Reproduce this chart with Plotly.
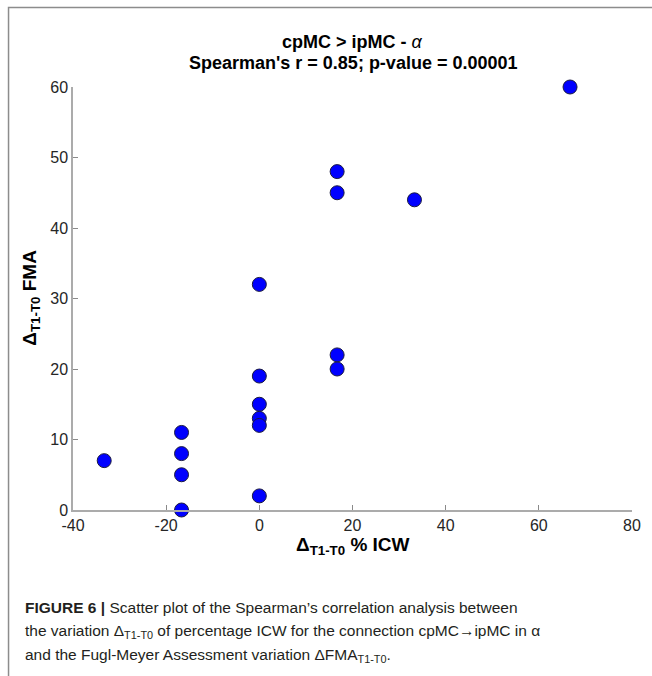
import plotly.graph_objects as go

# Data
icw_change = [-33.3, -16.7, -16.7, -16.7, -16.7, 0, 0, 0, 0, 0, 0,
              16.7, 16.7, 16.7, 16.7, 33.3, 66.7]
fma_change = [7, 11, 8, 5, 0, 32, 19, 15, 13, 12, 2,
              48, 45, 22, 20, 44, 60]
x_ticks = [-40, -20, 0, 20, 40, 60, 80]
x_tick_labels = ["-40", "-20", "0", "20", "40", "60", "80"]
y_ticks = [0, 10, 20, 30, 40, 50, 60]
y_tick_labels = ["0", "10", "20", "30", "40", "50", "60"]

W, H = 652, 676
L, R, T, B = 73, 11, 87, 166
pw, ph = W - L - R, H - T - B

def px(xp):
    return (xp - L) / pw

def py(yp):
    return (H - B - yp) / ph

fig = go.Figure()
fig.add_trace(go.Scatter(
    x=icw_change, y=fma_change, mode="markers",
    marker=dict(size=14, color="#0000ff", line=dict(color="#1a1a40", width=1)),
    cliponaxis=False, showlegend=False, hoverinfo="skip",
))

axis_common = dict(
    showgrid=False, zeroline=False, showline=True, linecolor="#ababab", linewidth=1.5,
    ticks="inside", ticklen=5, tickcolor="#8a8a8a", tickwidth=1,
    tickfont=dict(family="Liberation Sans, Arial, sans-serif", size=16, color="#262626"),
    mirror=False,
)
fig.update_xaxes(range=[-40, 80], tickvals=x_ticks, ticktext=x_tick_labels, **axis_common)
fig.update_yaxes(range=[0, 60], tickvals=y_ticks, ticktext=y_tick_labels, **axis_common)

font_main = "Liberation Sans, Arial, sans-serif"
ann = [
    dict(x=px(357), y=py(42), text="<b>cpMC &gt; ipMC - </b><i>α</i>", font=dict(size=18)),
    dict(x=px(357), y=py(63), text="<b>Spearman's r = 0.85; p-value = 0.00001</b>", font=dict(size=18)),
    dict(x=px(357), y=py(546), text="<b>Δ<sub>T1-T0</sub> % ICW</b>", font=dict(size=19)),
    dict(x=px(30), y=py(298), text="<b>Δ<sub>T1-T0</sub> FMA</b>", font=dict(size=19), textangle=-90),
]
annotations = []
for a in ann:
    a.update(xref="paper", yref="paper", showarrow=False, xanchor="center", yanchor="middle")
    a["font"].update(family=font_main, color="#000000")
    annotations.append(a)

cap_font = dict(family="Liberation Sans, Arial, sans-serif", size=15.5, color="#231f20")
captions = [
    (607, "<b>FIGURE 6 |</b> Scatter plot of the Spearman’s correlation analysis between"),
    (631, "the variation Δ<sub>T1-T0</sub> of percentage ICW for the connection cpMC→ipMC in α"),
    (655, "and the Fugl-Meyer Assessment variation ΔFMA<sub>T1-T0</sub>."),
]
for yp, t in captions:
    annotations.append(dict(x=px(22), y=py(yp), xref="paper", yref="paper", text=t,
                            showarrow=False, xanchor="left", yanchor="middle", font=cap_font))

fig.update_layout(
    width=W, height=H, margin=dict(l=L, r=R, t=T, b=B),
    paper_bgcolor="white", plot_bgcolor="white",
    annotations=annotations,
    shapes=[dict(type="rect", xref="paper", yref="paper",
                 x0=px(7.5), x1=px(700), y0=py(720), y1=py(7.5),
                 line=dict(color="#8c8c8c", width=1.5), layer="below")],
)

fig.write_html("out.html", config={"displayModeBar": False},
               post_script="document.body.style.margin='0';document.body.style.overflow='hidden';")
